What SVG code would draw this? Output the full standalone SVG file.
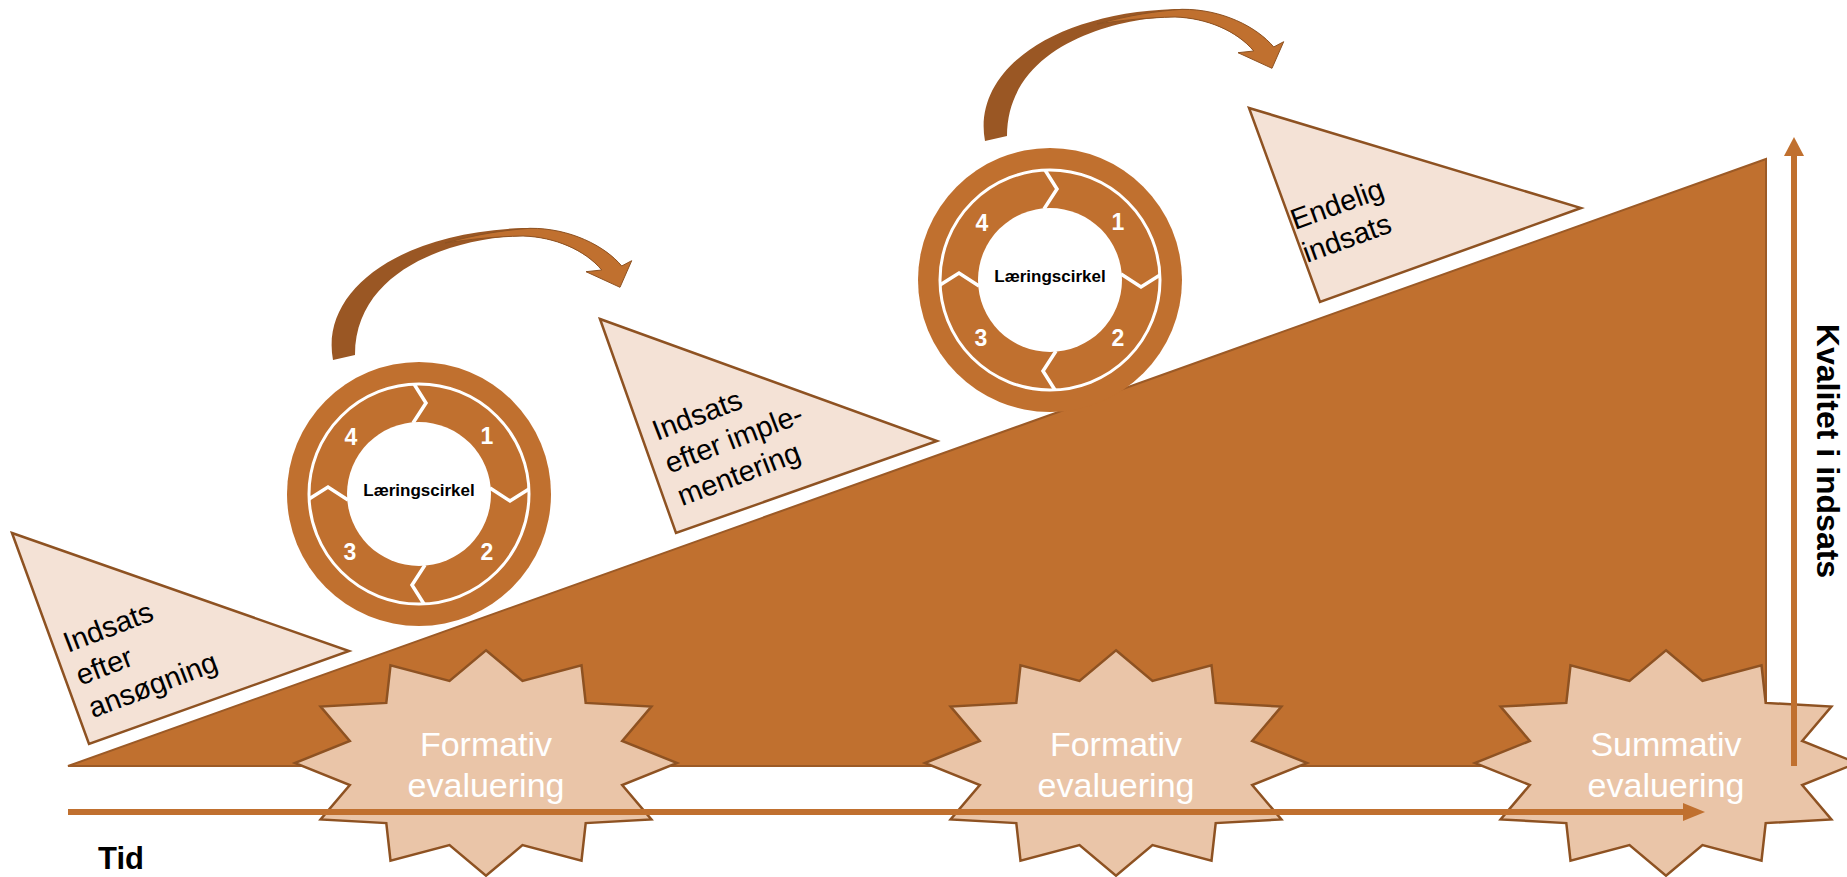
<svg xmlns="http://www.w3.org/2000/svg" width="1847" height="877" viewBox="0 0 1847 877">
<style>
.wedge{fill:#C0702F;stroke:#9C5A26;stroke-width:2}
.tri{fill:#F4E2D6;stroke:#8E5222;stroke-width:2.5;stroke-linejoin:miter}
.tri-text{font-family:"Liberation Sans",Arial,sans-serif;font-size:29px;fill:#000}
.star{fill:#EAC5A8;stroke:#8E5222;stroke-width:2.5}
.star-text{font-family:"Liberation Sans",Arial,sans-serif;font-size:34px;fill:#fff;text-anchor:middle}
.disk{fill:#C0702F}
.ring{fill:none;stroke:#fff;stroke-width:3}
.hole{fill:#fff}
.chev{fill:none;stroke:#fff;stroke-width:3.5}
.num{font-family:"Liberation Sans",Arial,sans-serif;font-size:23px;font-weight:bold;fill:#fff;text-anchor:middle}
.lc{font-family:"Liberation Sans",Arial,sans-serif;font-size:17px;font-weight:bold;fill:#000;text-anchor:middle}
.axis{stroke:#C0702F;stroke-width:6;fill:none}
.head{fill:#C0702F}
.dark{fill:#9A5724}
.light{fill:#C0702F;stroke:#8E5222;stroke-width:1}
.axis-label{font-family:"Liberation Sans",Arial,sans-serif;font-size:32px;font-weight:bold;fill:#000}
</style>
<defs>
<path id="star12" d="M0,-112.7 L36.5,-82.1 L95.5,-97.6 L99.7,-60.1 L165.4,-56.4 L136.2,-22 L191,0 L136.2,22 L165.4,56.4 L99.7,60.1 L95.5,97.6 L36.5,82.1 L0,112.7 L-36.5,82.1 L-95.5,97.6 L-99.7,60.1 L-165.4,56.4 L-136.2,22 L-191,0 L-136.2,-22 L-165.4,-56.4 L-99.7,-60.1 L-95.5,-97.6 L-36.5,-82.1 Z"/>
<polyline id="chev" class="chev" points="-5,-110 7,-91 -6,-71"/>
<g id="cycle">
<circle class="disk" r="132"/>
<circle class="ring" r="110"/>
<circle class="hole" r="72"/>
<use href="#chev"/>
<use href="#chev" transform="rotate(90)"/>
<use href="#chev" transform="rotate(180)"/>
<use href="#chev" transform="rotate(270)"/>
</g>
<g id="curved">
<path class="dark" d="M333,360 C320,290 400,232 523,228 C565,227 605,245 621.7,266 L601.7,270 C585,250 555,237 523,236 C470,236 355,262 355,355 Z"/>
<path class="light" d="M445,243 C478,234 505,230 530,228.3 C570,228 605,246 621.7,266 L631.7,260.7 L620,287.3 L586,271.7 L601.7,270 C585,250 555,237 523,236 C495,236.5 468,239.5 445,243 Z"/>
</g>
</defs>

<g id="wedge">
<polygon class="wedge" points="68,766 1766,159 1766,766"/>
</g>

<g id="tri1">
<polygon class="tri" points="12,533 349,651 89,744"/>
<text class="tri-text" transform="translate(68,653) rotate(-21)"><tspan x="0" y="0">Indsats</tspan><tspan x="0" y="35">efter</tspan><tspan x="0" y="70">ansøgning</tspan></text>
</g>
<g id="tri2">
<polygon class="tri" points="600,319 937,441 676,533"/>
<text class="tri-text" transform="translate(657,441) rotate(-21)"><tspan x="0" y="0">Indsats</tspan><tspan x="0" y="35">efter imple-</tspan><tspan x="0" y="70">mentering</tspan></text>
</g>
<g id="tri3">
<polygon class="tri" points="1249,108 1581,208 1320,302"/>
<text class="tri-text" transform="translate(1295,230) rotate(-20)"><tspan x="0" y="0">Endelig</tspan><tspan x="0" y="35">indsats</tspan></text>
</g>

<g id="cycle1" transform="translate(419,494)">
<use href="#cycle"/>
<text class="lc" x="0" y="2">Læringscirkel</text>
<text class="num" x="68" y="-50">1</text>
<text class="num" x="68" y="66">2</text>
<text class="num" x="-69" y="66">3</text>
<text class="num" x="-68" y="-49">4</text>
</g>
<g id="cycle2" transform="translate(1050,280)">
<use href="#cycle"/>
<text class="lc" x="0" y="2">Læringscirkel</text>
<text class="num" x="68" y="-50">1</text>
<text class="num" x="68" y="66">2</text>
<text class="num" x="-69" y="66">3</text>
<text class="num" x="-68" y="-49">4</text>
</g>

<g id="star1" transform="translate(486,763)">
<use href="#star12" class="star"/>
<text class="star-text" x="0" y="-7">Formativ</text>
<text class="star-text" x="0" y="34">evaluering</text>
</g>
<g id="star2" transform="translate(1116,763)">
<use href="#star12" class="star"/>
<text class="star-text" x="0" y="-7">Formativ</text>
<text class="star-text" x="0" y="34">evaluering</text>
</g>
<g id="star3" transform="translate(1666,763)">
<use href="#star12" class="star"/>
<text class="star-text" x="0" y="-7">Summativ</text>
<text class="star-text" x="0" y="34">evaluering</text>
</g>

<g id="connectors">
<line class="axis" x1="68" y1="812" x2="1685" y2="812"/>
<polygon class="head" points="1683,803 1705,812 1683,821"/>
<line class="axis" x1="1794" y1="766" x2="1794" y2="154"/>
<polygon class="head" points="1784,156 1794,137 1804,156"/>
<use href="#curved"/>
<use href="#curved" transform="translate(652,-219)"/>
</g>

<g id="labels">
<text class="axis-label" x="98" y="869" style="font-size:31px">Tid</text>
<text class="axis-label" text-anchor="middle" transform="translate(1817,451) rotate(90)">Kvalitet i indsats</text>
</g>
</svg>
